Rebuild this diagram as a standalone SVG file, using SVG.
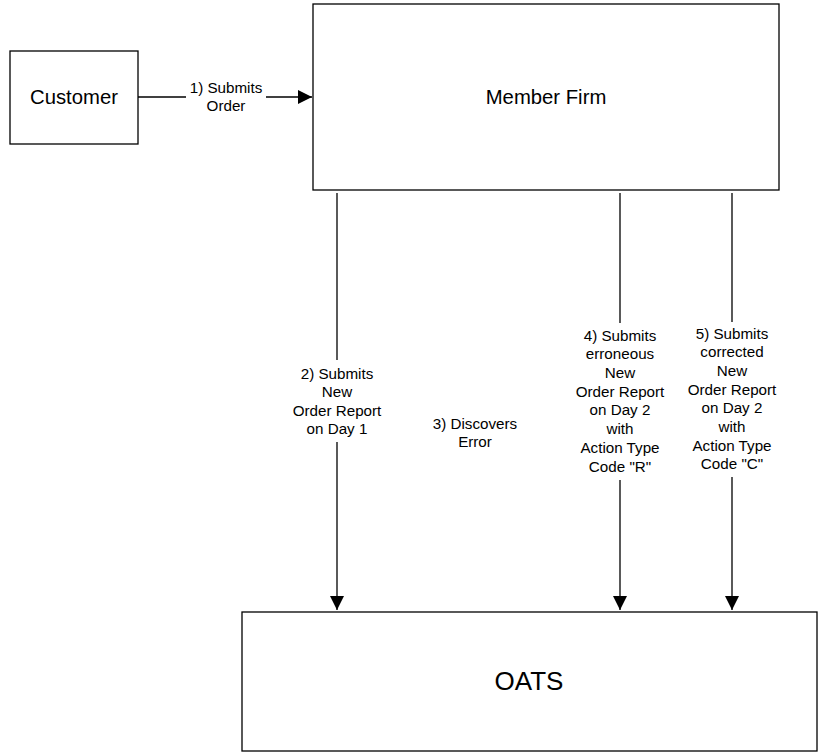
<svg xmlns="http://www.w3.org/2000/svg" width="819" height="753" viewBox="0 0 819 753">
<style>
.box{fill:#fff;stroke:#000;stroke-width:1.3}
.ln{stroke:#000;stroke-width:1.3;fill:none}
.t{font-family:"Liberation Sans",Arial,sans-serif;fill:#000;text-anchor:middle}
.lbl{font-size:15.2px}
</style>
<defs>
<marker id="ah" viewBox="0 0 14 14" refX="14" refY="7" markerWidth="14" markerHeight="14" markerUnits="userSpaceOnUse" orient="auto">
<path d="M0,0 L14,7 L0,14 Z" fill="#000"/>
</marker>
</defs>
<rect width="819" height="753" fill="#fff"/>
<g id="customer">
<rect class="box" x="10" y="51" width="128" height="93"/>
<text class="t" x="74" y="104" font-size="20.3">Customer</text>
</g>
<g id="member-firm">
<rect class="box" x="313" y="4" width="466" height="186"/>
<text class="t" x="546" y="104" font-size="20.3">Member Firm</text>
</g>
<g id="oats">
<rect class="box" x="242" y="612" width="575" height="139"/>
<text class="t" x="529" y="690" font-size="26">OATS</text>
</g>
<g id="connectors">
<path class="ln" d="M138,97 H186"/>
<path class="ln" d="M266,97 H312" marker-end="url(#ah)"/>
<path class="ln" d="M337,193 V360"/>
<path class="ln" d="M337,442 V610" marker-end="url(#ah)"/>
<path class="ln" d="M620,193 V323"/>
<path class="ln" d="M620,480 V610" marker-end="url(#ah)"/>
<path class="ln" d="M732,193 V322"/>
<path class="ln" d="M732,477 V610" marker-end="url(#ah)"/>
</g>
<g id="labels">
<text class="t lbl" x="226" y="93">1) Submits</text>
<text class="t lbl" x="226" y="111">Order</text>
<text class="t lbl" x="337" y="379">2) Submits</text>
<text class="t lbl" x="337" y="397">New</text>
<text class="t lbl" x="337" y="416">Order Report</text>
<text class="t lbl" x="337" y="434">on Day 1</text>
<text class="t lbl" x="475" y="429">3) Discovers</text>
<text class="t lbl" x="475" y="447">Error</text>
<text class="t lbl" x="620" y="341">4) Submits</text>
<text class="t lbl" x="620" y="359">erroneous</text>
<text class="t lbl" x="620" y="378">New</text>
<text class="t lbl" x="620" y="397">Order Report</text>
<text class="t lbl" x="620" y="415">on Day 2</text>
<text class="t lbl" x="620" y="434">with</text>
<text class="t lbl" x="620" y="453">Action Type</text>
<text class="t lbl" x="620" y="472">Code "R"</text>
<text class="t lbl" x="732" y="339">5) Submits</text>
<text class="t lbl" x="732" y="357">corrected</text>
<text class="t lbl" x="732" y="376">New</text>
<text class="t lbl" x="732" y="395">Order Report</text>
<text class="t lbl" x="732" y="413">on Day 2</text>
<text class="t lbl" x="732" y="432">with</text>
<text class="t lbl" x="732" y="451">Action Type</text>
<text class="t lbl" x="732" y="469">Code "C"</text>
</g>
</svg>
